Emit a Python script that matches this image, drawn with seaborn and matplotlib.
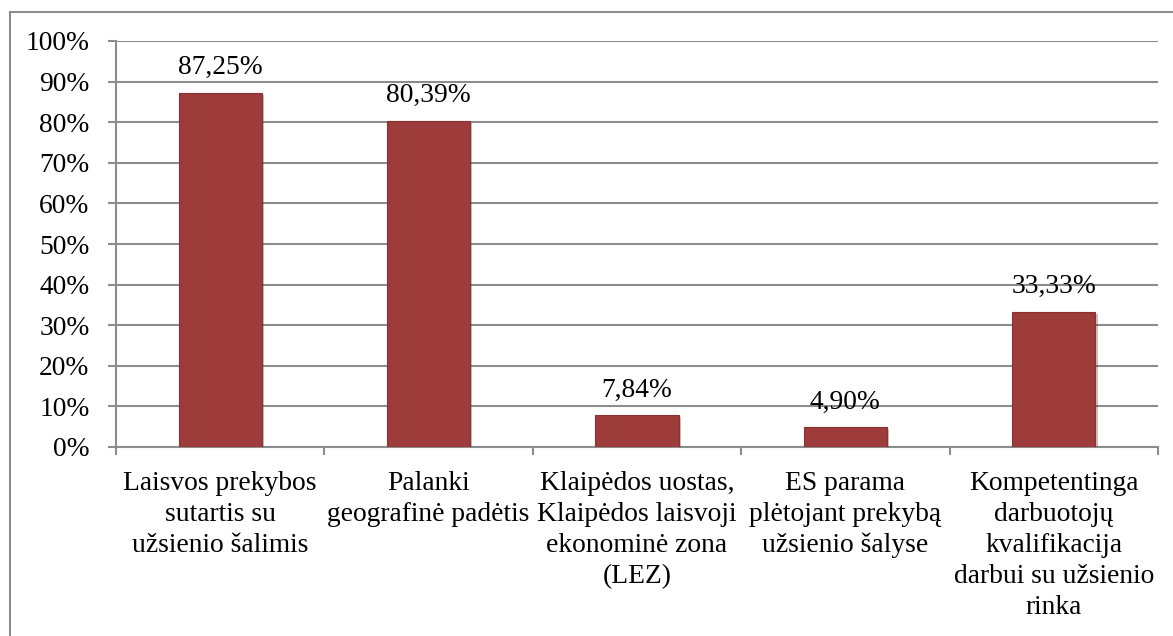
import matplotlib
matplotlib.use("Agg")
import matplotlib.pyplot as plt
import matplotlib.patheffects as pe
from matplotlib.patches import Rectangle
from matplotlib.ticker import FixedLocator, PercentFormatter
import seaborn as sns
import pandas as pd

categories = [
    "Laisvos prekybos\nsutartis su\nužsienio šalimis",
    "Palanki\ngeografinė padėtis",
    "Klaipėdos uostas,\nKlaipėdos laisvoji\nekonominė zona\n(LEZ)",
    "ES parama\nplėtojant prekybą\nužsienio šalyse",
    "Kompetentinga\ndarbuotojų\nkvalifikacija\ndarbui su užsienio\nrinka",
]
values = [87.25, 80.39, 7.84, 4.90, 33.33]
value_labels = ["87,25%", "80,39%", "7,84%", "4,90%", "33,33%"]
y_ticks = [0, 10, 20, 30, 40, 50, 60, 70, 80, 90, 100]

sns.set_theme(style="white")
plt.rcParams["font.family"] = ["Liberation Serif", "DejaVu Serif"]

FS = 19.8
W, H = 1173, 636
fig = plt.figure(figsize=(W / 100, H / 100), dpi=100)
ax = fig.add_axes([116 / W, 1 - 447 / H, (1158 - 116) / W, (447 - 41) / H])

df = pd.DataFrame({"cat": categories, "val": values})
sns.barplot(data=df, x="cat", y="val", color="#9E3B3B", saturation=1,
            width=0.4, ax=ax, zorder=3)

for p in ax.patches:
    p.set_edgecolor("#8A3131")
    p.set_linewidth(0.8)
    p.set_path_effects([pe.SimplePatchShadow(offset=(1.5, -1.5), alpha=0.25), pe.Normal()])

ax.set_xlim(-0.5, len(categories) - 0.5)
ax.set_ylim(0, 100)
ax.yaxis.set_major_locator(FixedLocator(y_ticks))
ax.yaxis.set_major_formatter(PercentFormatter(decimals=0))
ax.grid(axis="y", color="#8C8C8C", linewidth=1.5, zorder=0)
ax.set_axisbelow(True)

for s in ["top", "right"]:
    ax.spines[s].set_visible(False)
for s in ["left", "bottom"]:
    ax.spines[s].set_color("#8C8C8C")
    ax.spines[s].set_linewidth(1.5)

ax.tick_params(axis="y", which="major", direction="out", length=6, width=1.5,
               color="#8C8C8C", left=True, pad=13, labelsize=FS, labelcolor="black")
ax.tick_params(axis="x", which="major", length=0, pad=17, labelsize=FS, labelcolor="black")
ax.xaxis.set_minor_locator(FixedLocator([i - 0.5 for i in range(len(categories) + 1)]))
ax.tick_params(axis="x", which="minor", direction="out", length=6, width=1.5,
               color="#8C8C8C", bottom=True)
for lbl in ax.get_xticklabels():
    lbl.set_linespacing(1.32)
    lbl.set_verticalalignment("top")

ax.set_xlabel("")
ax.set_ylabel("")

for i, (v, t) in enumerate(zip(values, value_labels)):
    ax.annotate(t, (i, v), xytext=(0, 9), textcoords="offset points",
                ha="center", va="bottom", fontsize=FS, color="black")

fig.add_artist(Rectangle((10 / W, -0.1), 1.2, 1 - 12 / H + 0.1,
                         transform=fig.transFigure, fill=False,
                         edgecolor="#8C8C8C", linewidth=1.5))

fig.savefig("out.png", dpi=100)
